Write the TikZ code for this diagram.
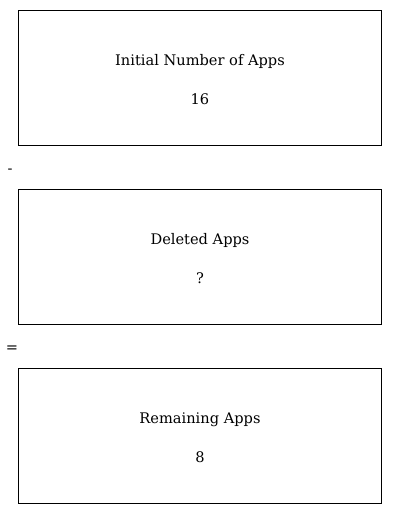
\documentclass[tikz,border=0pt]{standalone}
\usepackage{fontspec}
\setmainfont{DejaVu Serif}
\begin{document}
\begin{tikzpicture}[x=1pt,y=-1pt,
  panel/.style={draw,line width=0.8pt,minimum width=363pt,minimum height=135pt,inner sep=0pt},
  lbl/.style={font=\fontsize{14.6}{17}\selectfont,inner sep=0pt},
  op/.style={font=\fontsize{14.6}{17}\selectfont,inner sep=0pt}]
\useasboundingbox (0,0) rectangle (400,514);
\node[panel] (b1) at (199.5,77.5) {};
\node[panel] (b2) at (199.5,256.5) {};
\node[panel] (b3) at (199.5,435.5) {};
\node[lbl] (t1) at (200,61.5) {Initial Number of Apps};
\node[lbl] (v1) at (200,99) {16};
\node[lbl] (t2) at (200,240.5) {Deleted Apps};
\node[lbl] (v2) at (200,278) {?};
\node[lbl] (t3) at (200,419.5) {Remaining Apps};
\node[lbl] (v3) at (200,457) {8};
\node[op] (m) at (10,171) {-};
\node[op] (e) at (12,349) {=};
\end{tikzpicture}
\end{document}
